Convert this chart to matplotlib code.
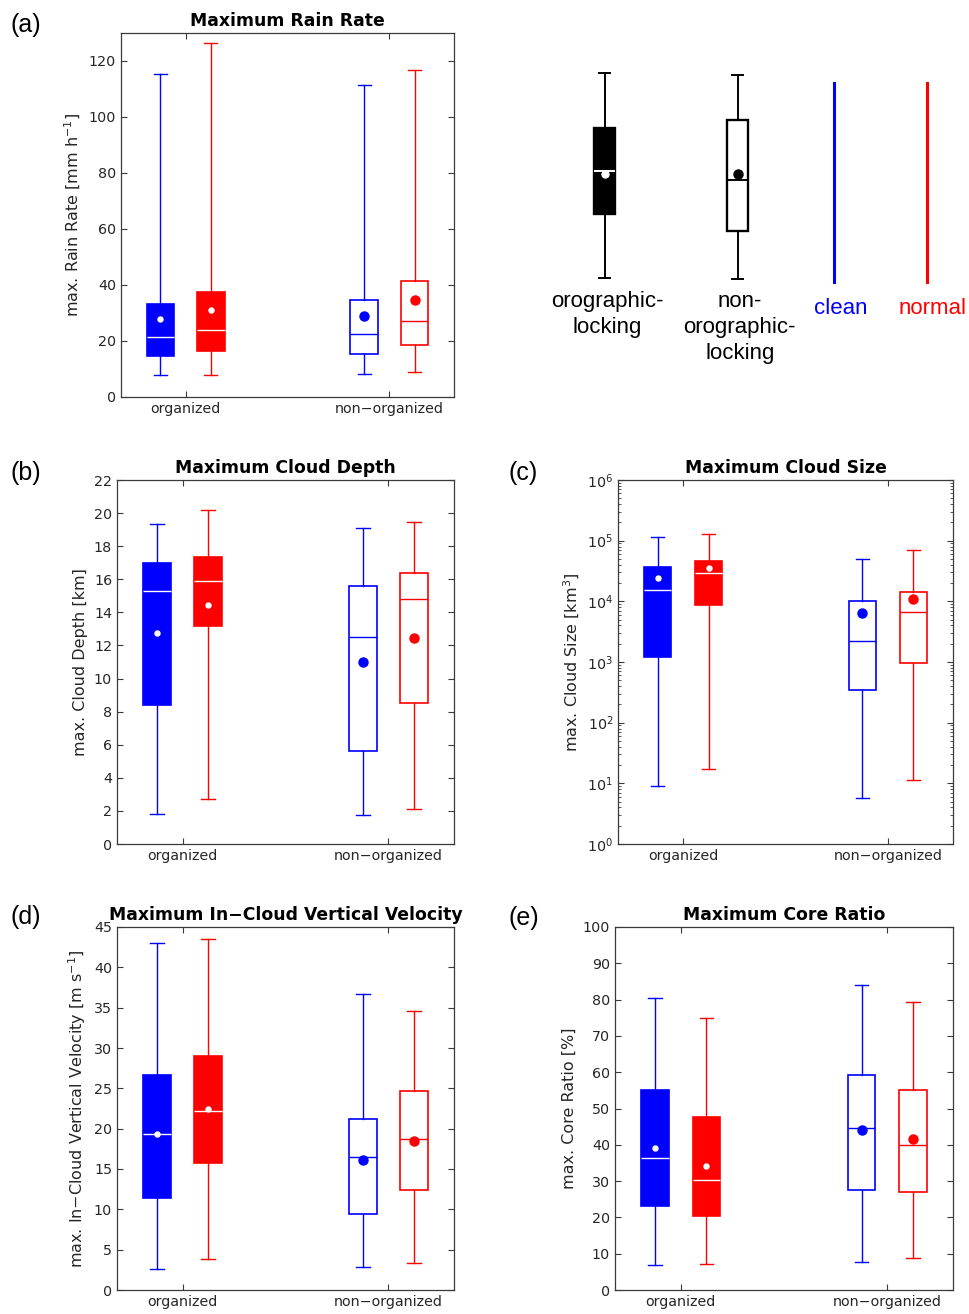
import matplotlib
matplotlib.use('Agg')
import matplotlib.pyplot as plt

W, H = 970, 1314
fig = plt.figure(figsize=(W / 100, H / 100), dpi=100)
plt.rcParams['font.family'] = ['DejaVu Sans']
plt.rcParams['mathtext.fontset'] = 'dejavusans'

# ---------------- data ----------------
groups = ['organized', 'non\u2212organized']
series = ['clean', 'normal']
series_colors = ['#0000FF', '#FF0000']
# order of boxes: clean-organized, normal-organized, clean-non, normal-non

rain_lo = [7.8, 8.0, 8.1, 8.9]
rain_q1 = [14.6, 16.5, 15.3, 18.5]
rain_med = [21.4, 24.0, 22.5, 27.0]
rain_q3 = [33.2, 37.6, 34.7, 41.6]
rain_hi = [115.5, 126.4, 111.3, 116.9]
rain_mean = [27.8, 31.1, 28.9, 34.6]

depth_lo = [1.83, 2.72, 1.73, 2.13]
depth_q1 = [8.41, 13.18, 5.60, 8.55]
depth_med = [15.30, 15.88, 12.54, 14.81]
depth_q3 = [16.97, 17.37, 15.60, 16.40]
depth_hi = [19.34, 20.19, 19.12, 19.44]
depth_mean = [12.76, 14.43, 10.99, 12.44]

size_lo = [9.1, 17.2, 5.65, 11.5]
size_q1 = [1.22e3, 8.74e3, 344, 981]
size_med = [1.56e4, 2.94e4, 2.26e3, 6.62e3]
size_q3 = [3.69e4, 4.69e4, 1.0e4, 1.41e4]
size_hi = [1.14e5, 1.29e5, 5.06e4, 7.03e4]
size_mean = [2.43e4, 3.51e4, 6.53e3, 1.10e4]

vel_lo = [2.56, 3.84, 2.81, 3.35]
vel_q1 = [11.4, 15.70, 9.38, 12.36]
vel_med = [19.3, 22.19, 16.45, 18.68]
vel_q3 = [26.7, 29.05, 21.2, 24.67]
vel_hi = [43.0, 43.5, 36.69, 34.55]
vel_mean = [19.3, 22.44, 16.16, 18.51]

core_lo = [6.8, 7.07, 7.8, 8.72]
core_q1 = [23.05, 20.29, 27.64, 27.0]
core_med = [36.27, 30.21, 44.63, 39.85]
core_q3 = [55.19, 47.66, 59.32, 55.0]
core_hi = [80.35, 74.93, 84.02, 79.34]
core_mean = [39.12, 34.16, 44.08, 41.51]

# legend sample boxes (schematic, in legend-axes units)
legend_labels = ['orographic-\nlocking', 'non-\norographic-\nlocking']
legend_lo = [278.3, 279.3]
legend_q1 = [214.3, 231.3]
legend_med = [171.0, 180.0]
legend_q3 = [128.3, 120.3]
legend_hi = [73.3, 75.0]
legend_mean = [173.7, 174.0]

# ---------------- helpers ----------------
def px_axes(l, t, r, b):
    return fig.add_axes([l / W, 1 - b / H, (r - l) / W, (b - t) / H])

FRAME = '#3a3a3a'
TXT = '#262626'

def draw_box(ax, pos, lo, q1, med, q3, hi, mean, color, filled, width, capw, lw=1.0,
             small_dot=3.6, big_dot=6.5):
    stats = [dict(whislo=lo, q1=q1, med=med, q3=q3, whishi=hi, mean=mean, fliers=[])]
    face = color if filled else 'white'
    inner = 'white' if filled else color
    ax.bxp(stats, positions=[pos], widths=width, capwidths=capw, patch_artist=True,
           showmeans=True, showfliers=False, manage_ticks=False,
           boxprops=dict(facecolor=face, edgecolor=color, linewidth=lw * 1.2),
           medianprops=dict(color=inner, linewidth=lw),
           whiskerprops=dict(color=color, linewidth=lw),
           capprops=dict(color=color, linewidth=lw),
           meanprops=dict(marker='o', markerfacecolor=inner, markeredgecolor=inner,
                          markersize=small_dot if filled else big_dot))


def panel(ax, lo, q1, med, q3, hi, mean, title, ylabel, ylim, yticks=None, log=False):
    offs = [-0.124, 0.124]
    k = 0
    for g in range(2):
        for s in range(2):
            draw_box(ax, g + 1 + offs[s], lo[k], q1[k], med[k], q3[k], hi[k], mean[k],
                     series_colors[s], filled=(g == 0), width=0.133, capw=0.064)
            k += 1
    if log:
        ax.set_yscale('log')
    ax.set_xlim(0.682, 2.318)
    ax.set_ylim(*ylim)
    if yticks is not None:
        ax.set_yticks(yticks)
    ax.set_xticks([1, 2])
    ax.set_xticklabels(groups)
    ax.tick_params(which='major', direction='in', top=True, right=True, length=4.5,
                   width=0.8, color=FRAME, labelcolor=TXT, labelsize=10.3)
    ax.tick_params(which='minor', direction='in', top=False, right=True, length=2.5,
                   width=0.6, color=FRAME)
    ax.tick_params(axis='x', which='minor', bottom=False, top=False)
    for sp in ax.spines.values():
        sp.set_color(FRAME)
        sp.set_linewidth(0.9)
    ax.set_title(title, fontsize=12.4, fontweight='bold', color='black', pad=5)
    ax.set_ylabel(ylabel, fontsize=11.5, color=TXT)


def plabel(x, y, s):
    fig.text(x / W, 1 - y / H, s, fontsize=18, family='Liberation Sans',
             ha='left', va='center', color='black')

# ---------------- panels ----------------
axa = px_axes(121, 33, 454, 397)
panel(axa, rain_lo, rain_q1, rain_med, rain_q3, rain_hi, rain_mean,
      'Maximum Rain Rate', 'max. Rain Rate [mm h$^{-1}$]', (0, 130),
      [0, 20, 40, 60, 80, 100, 120])

axb = px_axes(117, 480, 454, 844)
panel(axb, depth_lo, depth_q1, depth_med, depth_q3, depth_hi, depth_mean,
      'Maximum Cloud Depth', 'max. Cloud Depth [km]', (0, 22), list(range(0, 23, 2)))

axc = px_axes(618, 480, 953, 844)
panel(axc, size_lo, size_q1, size_med, size_q3, size_hi, size_mean,
      'Maximum Cloud Size', 'max. Cloud Size [km$^3$]', (1, 1e6),
      [1, 10, 1e2, 1e3, 1e4, 1e5, 1e6], log=True)

axd = px_axes(117, 927, 454, 1290)
panel(axd, vel_lo, vel_q1, vel_med, vel_q3, vel_hi, vel_mean,
      'Maximum In\u2212Cloud Vertical Velocity',
      'max. In\u2212Cloud Vertical Velocity [m s$^{-1}$]', (0, 45), list(range(0, 46, 5)))

axe = px_axes(615, 927, 953, 1290)
panel(axe, core_lo, core_q1, core_med, core_q3, core_hi, core_mean,
      'Maximum Core Ratio', 'max. Core Ratio [%]', (0, 100), list(range(0, 101, 10)))

plabel(11, 25, '(a)')
plabel(11, 473, '(b)')
plabel(509, 473, '(c)')
plabel(11, 917, '(d)')
plabel(509, 918, '(e)')

# ---------------- legend ----------------
axl = px_axes(500, 40, 970, 390)
axl.set_xlim(500, 970)
axl.set_ylim(390, 40)
axl.axis('off')
leg_x = [605, 737.7]
for i in range(2):
    draw_box(axl, leg_x[i], legend_lo[i], legend_q1[i], legend_med[i], legend_q3[i],
             legend_hi[i], legend_mean[i], 'black', filled=(i == 0), width=21, capw=11,
             lw=1.4, small_dot=5, big_dot=6.5)
    axl.text(leg_x[i] + 2, 291, legend_labels[i], ha='center', va='top', fontsize=16,
             family='Liberation Sans', linespacing=1.32)
line_x = [834.3, 926.7]
line_names = ['clean', 'normal']
for i in range(2):
    axl.plot([line_x[i], line_x[i]], [82.7, 281.7], color=series_colors[i], lw=2.2)
    axl.text(line_x[i] + 6, 309, line_names[i], ha='center', va='center', fontsize=16,
             family='Liberation Sans', color=series_colors[i])

fig.savefig('out.png', dpi=100)
